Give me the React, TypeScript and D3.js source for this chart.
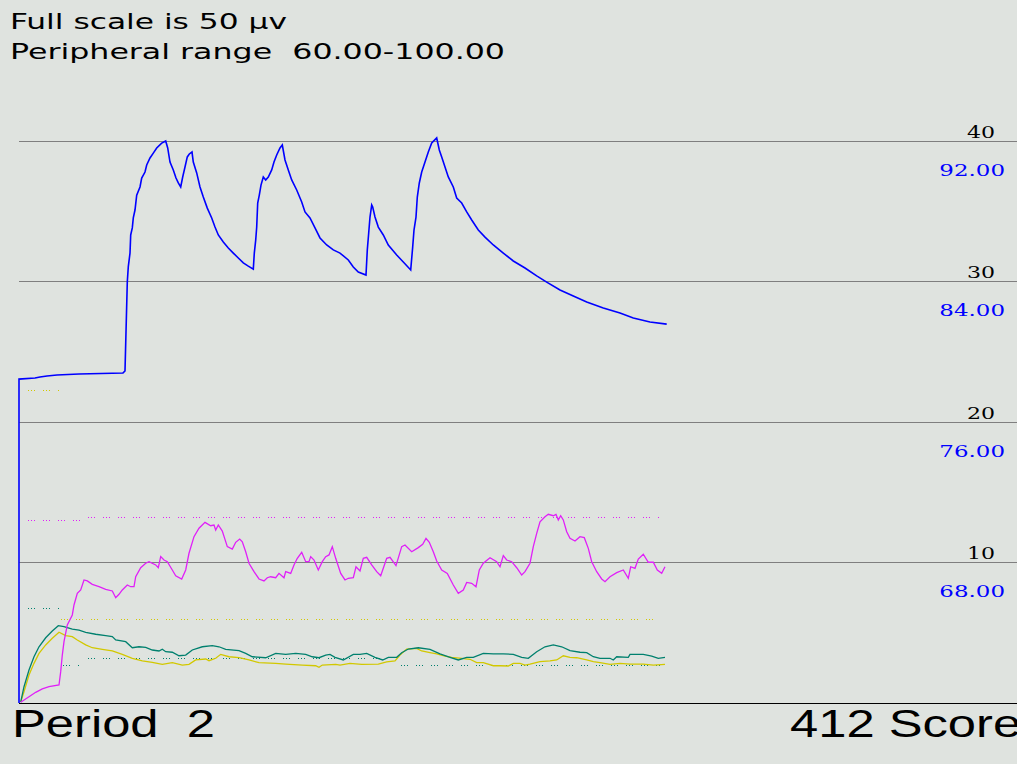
import React from "react";
import * as d3 from "d3";

// ---- data (time index t, values) ----
const headerLines = ["Full scale is 50 \u03bcv", "Peripheral range  60.00-100.00"];
const footerLeft = "Period  2";
const footerRight = "412 Score";

const gridTicks = [10, 20, 30, 40]; // μv
const peripheralTicks = [92, 84, 76, 68];

// peripheral (blue), 60..100 scale
const peripheral: [number, number][] = [
  [0, 60.0], [0, 78.43], [16, 78.49], [21, 78.55], [28, 78.61], [38, 78.66], [60, 78.72], [104, 78.78], [106, 78.89],
  [108.3, 83.97], [109.3, 84.83], [111, 85.6], [111.7, 86.63], [113.3, 87.03], [114.3, 87.6], [116, 88.05], [117.7, 88.9],
  [121, 89.36], [122.7, 89.87], [126, 90.21], [127.7, 90.61], [131, 91.01], [134.3, 91.29], [137.7, 91.58], [142.7, 91.86],
  [146.7, 91.98], [148.7, 91.58], [151, 90.78], [154.3, 90.33], [157, 89.87], [159.3, 89.59], [161.7, 89.36], [163.7, 89.93],
  [166, 90.5], [168.3, 91.07], [170.3, 91.24], [173, 91.35], [174.3, 90.78], [177.7, 90.16], [181, 89.36], [184.3, 88.79],
  [188.3, 88.16], [192.7, 87.6], [196, 87.08], [199.3, 86.63], [204.3, 86.23], [209.3, 85.89], [214.3, 85.6], [219.3, 85.32],
  [224.3, 85.04], [229.3, 84.86], [234.3, 84.69], [235.3, 85.6], [236.7, 86.34], [237.7, 87.08], [238.7, 88.45], [240.3, 88.9],
  [242, 89.47], [244.3, 89.93], [246.7, 89.76], [249.3, 89.93], [252.7, 90.33], [255, 90.78], [257.7, 91.18], [261, 91.58],
  [263.3, 91.75], [266, 90.9], [269.3, 90.33], [272.7, 89.76], [277.7, 89.19], [282.7, 88.51], [286, 87.94], [291, 87.6],
  [296, 87.03], [301, 86.46], [307.7, 86.06], [314.3, 85.78], [321, 85.6], [329.3, 85.21], [334.3, 84.81], [339.3, 84.52],
  [347, 84.35], [348.3, 85.78], [349.7, 86.74], [351, 87.65], [352.7, 88.34], [353.7, 88.22], [356, 87.65], [359.3, 87.08],
  [364.3, 86.63], [369.3, 86.06], [377.7, 85.49], [384.3, 85.09], [391.7, 84.64], [393.7, 85.95], [395, 86.91], [397, 87.65],
  [398.3, 88.79], [400.3, 89.59], [402.7, 90.21], [406, 90.78], [409.3, 91.35], [412.7, 91.86], [417.7, 92.15], [420.3, 91.47],
  [422.7, 91.07], [426, 90.5], [429.3, 89.93], [434.3, 89.36], [437.7, 88.73], [442.7, 88.45], [447.7, 87.94], [452.7, 87.48],
  [459.3, 86.91], [466, 86.51], [474.3, 86.06], [484.3, 85.6], [494.3, 85.15], [506, 84.75], [517.7, 84.3], [527.7, 83.95],
  [541, 83.5], [554.3, 83.16], [567.7, 82.82], [584.3, 82.48], [601, 82.19], [614.3, 81.91], [631, 81.68], [647.7, 81.56],
];

// magenta, μv
const magenta: [number, number][] = [
  [1.7, 0.05], [10, 0.45], [16.7, 0.76], [23.3, 1.0], [30, 1.16], [40, 1.28], [41.7, 2.23], [43.3, 3.41], [45, 4.36],
  [48.3, 5.55], [53.3, 6.26], [55, 6.97], [58.3, 7.8], [61.7, 8.04], [65, 8.75], [68.3, 8.68], [73.3, 8.44], [80, 8.27],
  [86.7, 8.09], [93.3, 7.97], [96.7, 7.49], [100, 7.73], [103.3, 8.04], [108.3, 8.39], [111.7, 8.27], [115, 8.27],
  [116.7, 8.98], [121.7, 9.62], [126.7, 9.94], [130, 10.05], [136.7, 9.82], [139.3, 9.62], [141.7, 10.41], [145, 10.17],
  [148.3, 10.05], [153.3, 9.46], [156.7, 9.05], [162.7, 8.82], [166.7, 9.46], [170, 10.65], [175, 11.83], [180, 12.43],
  [186, 12.85], [191.7, 12.61], [195, 12.66], [196.7, 12.3], [199.3, 12.66], [203.3, 12.23], [208.3, 11.12], [213.3, 10.95],
  [216.7, 11.43], [220.7, 11.66], [223.3, 11.47], [226.7, 10.76], [230, 9.94], [235, 9.34], [240, 8.82], [245, 8.68],
  [248.3, 8.91], [251.7, 8.98], [256.7, 8.91], [260, 9.22], [265, 8.91], [266.7, 9.34], [271.7, 9.22], [275, 9.82],
  [278.3, 10.29], [282.7, 10.72], [286.7, 10.05], [290, 10.05], [291.7, 10.41], [295, 10.17], [299.3, 9.46], [303.3, 10.05],
  [306.7, 10.41], [310, 10.53], [313.3, 11.12], [316.7, 10.29], [321.7, 9.22], [326, 8.75], [329.3, 8.87], [334.3, 8.91],
  [337, 9.69], [341, 9.39], [344.3, 10.29], [347.7, 10.36], [352.7, 9.82], [357.7, 9.34], [361.7, 9.05], [367.7, 10.29],
  [371, 10.36], [377, 9.77], [382.7, 11.12], [386, 11.24], [392.7, 10.76], [399.3, 11.05], [403.7, 11.29], [407, 11.71],
  [410.3, 11.43], [414.3, 10.76], [417.7, 10.1], [422.7, 9.46], [428.3, 9.22], [434.3, 8.39], [439.3, 7.8], [444.3, 8.04],
  [447.7, 8.58], [452.7, 8.51], [457, 8.27], [460.3, 9.46], [464.3, 9.94], [471, 10.33], [477.7, 10.05], [481, 9.69],
  [484.3, 10.48], [487.7, 10.17], [492.7, 10.05], [497.7, 9.62], [502.7, 9.1], [506, 9.34], [511, 9.94], [514.3, 11.12],
  [517.7, 12.07], [521, 12.89], [526, 13.25], [529.3, 13.42], [534.3, 13.32], [537, 13.42], [539.3, 13.02], [541.7, 13.32],
  [544.3, 13.02], [547.7, 12.18], [551, 11.71], [556, 11.52], [561, 11.83], [565.3, 11.76], [569.3, 11.0], [572.7, 10.05],
  [577.7, 9.34], [582.7, 8.82], [586, 8.63], [591, 8.98], [597.7, 9.27], [604.3, 9.46], [609.3, 8.87], [611.7, 9.69],
  [616, 9.58], [619.3, 10.24], [624.3, 10.58], [629.3, 10.01], [634.3, 10.01], [638.3, 9.46], [642.7, 9.22], [646, 9.69],
];

// teal, μv
const teal: [number, number][] = [
  [1.7, 0.07], [5, 1.16], [10, 2.35], [15, 3.29], [20, 4.0], [26.7, 4.64], [33.3, 5.12], [39.3, 5.5], [45, 5.43],
  [53.3, 5.26], [60, 5.19], [66.7, 5.03], [76.7, 4.89], [86.7, 4.79], [93.3, 4.72], [96.7, 4.48], [106.7, 4.36],
  [113.3, 3.93], [120, 4.0], [126.7, 3.96], [133.3, 3.77], [140, 3.7], [143.3, 3.82], [146.7, 3.65], [153.3, 3.61],
  [160, 3.36], [166.7, 3.41], [173.3, 3.77], [183.3, 4.0], [193.3, 4.08], [200, 4.0], [206.7, 3.82], [220, 3.72],
  [226.7, 3.53], [233.3, 3.29], [246.7, 3.22], [256.7, 3.53], [266.7, 3.46], [276.7, 3.53], [286.7, 3.46], [293.3, 3.29],
  [300, 3.22], [306.7, 3.41], [311, 3.46], [316, 3.25], [324.3, 3.06], [334.3, 3.46], [341, 3.46], [347.7, 3.53],
  [356, 3.25], [363.7, 3.06], [369.3, 3.25], [377.7, 3.25], [382.7, 3.58], [389.3, 3.84], [399.3, 3.93], [411, 3.82],
  [421, 3.49], [431, 3.25], [439.3, 3.06], [447.7, 3.25], [454.3, 3.25], [464.3, 3.53], [474.3, 3.49], [484.3, 3.49],
  [494.3, 3.46], [502.7, 3.25], [509.3, 3.18], [517.7, 3.65], [526, 4.0], [534.3, 4.13], [542.7, 4.0], [551, 3.72],
  [561, 3.61], [567.7, 3.58], [574.3, 3.29], [581, 3.18], [591, 3.18], [594.3, 3.06], [597.7, 3.29], [609.3, 3.25],
  [611, 3.46], [624.3, 3.46], [632.7, 3.34], [639.3, 3.18], [646, 3.25],
];

// yellow, μv
const yellow: [number, number][] = [
  [1.7, 0.07], [5, 0.8], [10, 1.99], [15, 2.82], [20, 3.53], [26.7, 4.13], [33.3, 4.6], [40, 5.03], [46.7, 4.79],
  [53.3, 4.72], [58.3, 4.48], [66.7, 4.13], [73.3, 3.93], [83.3, 3.82], [93.3, 3.7], [103.3, 3.46], [113.3, 3.18],
  [123.3, 2.99], [133.3, 2.89], [143.3, 2.75], [153.3, 2.87], [163.3, 2.7], [170, 2.75], [176.7, 3.06], [186.7, 3.13],
  [190, 3.01], [196.7, 3.18], [201.7, 3.46], [210, 3.29], [220, 3.22], [230, 3.06], [240, 2.87], [256.7, 2.82],
  [266.7, 2.77], [283.3, 2.7], [296.7, 2.65], [300, 2.54], [303.3, 2.7], [316.7, 2.75], [321, 2.7], [331, 2.82],
  [342.7, 2.75], [359.3, 2.77], [367.7, 2.92], [376, 2.99], [381, 3.41], [387.7, 3.84], [397.7, 3.89], [402.7, 3.7],
  [411, 3.58], [417.7, 3.49], [426, 3.34], [432.7, 3.25], [442.7, 3.18], [451, 3.11], [457.7, 2.87], [464.3, 2.87],
  [474.3, 2.65], [481, 2.65], [489.3, 2.63], [494.3, 2.82], [501, 2.82], [506, 2.7], [511, 2.77], [521, 2.94],
  [531, 2.99], [537.7, 3.06], [544.3, 3.36], [551, 3.25], [557.7, 3.22], [567.7, 3.06], [574.3, 2.94], [581, 2.87],
  [591, 2.75], [601, 2.82], [611, 2.77], [624.3, 2.77], [634.3, 2.7], [646, 2.75],
];

// dotted target levels, μv: [tStart, tEnd, value]
const yellowTargets: [number, number, number][] = [[9, 40, 22.26], [42, 639, 5.97]];
const magentaTargets: [number, number, number][] = [[9, 62, 13.02], [69, 641, 13.23]];
const tealTargets: [number, number, number][] = [[9, 40, 6.76], [44, 61, 2.7], [69, 366, 3.2], [382, 641, 2.7]];

const W = 1017;
const H = 764;
const BG = "#dfe3df";
const COLORS = { blue: "#0000ff", magenta: "#e020f8", teal: "#00806e", yellow: "#d2c800" };

export default function App() {
  const x = d3.scaleLinear().domain([0, 998]).range([19, 1017]);
  const yMu = d3.scaleLinear().domain([0, 50]).range([703, 0]);
  const yPer = d3.scaleLinear().domain([60, 100]).range([703, 0]);
  const lineMu = d3.line<[number, number]>().x((d) => x(d[0])).y((d) => yMu(d[1]));
  const linePer = d3.line<[number, number]>().x((d) => x(d[0])).y((d) => yPer(d[1]));
  const fmt = d3.format(".2f");

  const targets = (segs: [number, number, number][], color: string, key: string) =>
    segs.map((s, i) => (
      <line
        key={key + i}
        x1={x(s[0])}
        x2={x(s[1])}
        y1={Math.round(yMu(s[2])) + 0.5}
        y2={Math.round(yMu(s[2])) + 0.5}
        stroke={color}
        strokeWidth={1}
        strokeDasharray="1 2 1 2 1 8"
        shapeRendering="crispEdges"
      />
    ));

  return (
    <svg
      width={W}
      height={H}
      style={{ position: "fixed", left: 0, top: 0, display: "block" }}
    >
      <rect x={0} y={0} width={W} height={H} fill={BG} />
      {headerLines.map((t, i) => (
        <text
          key={t}
          x={10}
          y={29 + i * 30}
          fontFamily="DejaVu Sans, Verdana, sans-serif"
          fontSize={21}
          fill="#000"
          textLength={i === 0 ? 277 : 495}
          lengthAdjust="spacingAndGlyphs"
          style={{ whiteSpace: "pre" }}
        >
          {t}
        </text>
      ))}

      {gridTicks.map((v) => (
        <line
          key={"g" + v}
          x1={x(0)}
          x2={W}
          y1={Math.round(yMu(v)) + 0.5}
          y2={Math.round(yMu(v)) + 0.5}
          stroke="#7f7f7f"
          strokeWidth={1}
          shapeRendering="crispEdges"
        />
      ))}
      {gridTicks.map((v) => (
        <g key={"l" + v} transform={`translate(995,${yMu(v) - 3}) scale(1.3,1)`}>
          <text textAnchor="end" fontFamily="DejaVu Serif, serif" fontSize={17} fill="#000">
            {v}
          </text>
        </g>
      ))}
      {peripheralTicks.map((v) => (
        <g key={"p" + v} transform={`translate(1005,${yPer(v) + 35}) scale(1.35,1)`}>
          <text textAnchor="end" fontFamily="DejaVu Serif, serif" fontSize={17} fill={COLORS.blue}>
            {fmt(v)}
          </text>
        </g>
      ))}

      {targets(yellowTargets, COLORS.yellow, "y")}
      {targets(magentaTargets, COLORS.magenta, "m")}
      {targets(tealTargets, COLORS.teal, "t")}

      <line x1={x(0)} x2={W} y1={703.5} y2={703.5} stroke="#000" strokeWidth={1.5} shapeRendering="crispEdges" />

      <path d={lineMu(yellow) || ""} fill="none" stroke={COLORS.yellow} strokeWidth={1.3} />
      <path d={lineMu(teal) || ""} fill="none" stroke={COLORS.teal} strokeWidth={1.3} />
      <path d={lineMu(magenta) || ""} fill="none" stroke={COLORS.magenta} strokeWidth={1.3} />
      <path d={linePer(peripheral) || ""} fill="none" stroke={COLORS.blue} strokeWidth={1.6} />

      <g transform="translate(12,737) scale(1.335,1)">
        <text fontFamily="Liberation Sans, Arial, sans-serif" fontSize={38} fill="#000" style={{ whiteSpace: "pre" }}>
          {footerLeft}
        </text>
      </g>
      <g transform="translate(790,737) scale(1.335,1)">
        <text fontFamily="Liberation Sans, Arial, sans-serif" fontSize={38} fill="#000" style={{ whiteSpace: "pre" }}>
          {footerRight}
        </text>
      </g>
    </svg>
  );
}
